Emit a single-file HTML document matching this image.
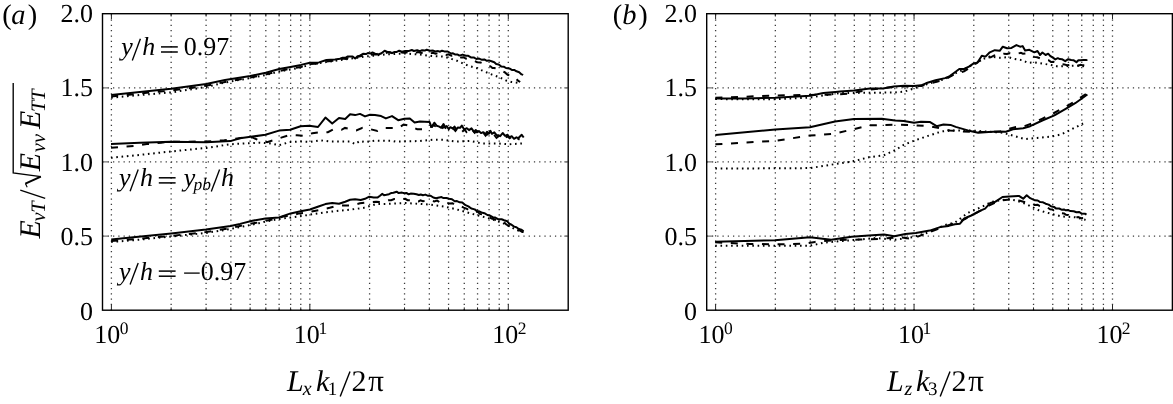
<!DOCTYPE html>
<html><head><meta charset="utf-8"><style>html,body{margin:0;padding:0;background:#fff;}svg{display:block;will-change:transform;}</style></head>
<body><svg width="1173" height="404" viewBox="0 0 1173 404" font-family="Liberation Serif" fill="#000">
<rect width="1173" height="404" fill="#fff"/>
<path d="M111.40 310.20V13.70M171.14 310.20V13.70M206.08 310.20V13.70M230.88 310.20V13.70M250.11 310.20V13.70M265.82 310.20V13.70M279.11 310.20V13.70M290.62 310.20V13.70M300.77 310.20V13.70M309.85 310.20V13.70M369.59 310.20V13.70M404.53 310.20V13.70M429.33 310.20V13.70M448.56 310.20V13.70M464.27 310.20V13.70M477.56 310.20V13.70M489.07 310.20V13.70M499.22 310.20V13.70M508.30 310.20V13.70M102.50 236.07H568.20M102.50 161.95H568.20M102.50 87.82H568.20" stroke="#3a3a3a" stroke-width="1.3" stroke-dasharray="1.25 4.011" fill="none"/>
<path d="M111.40 310.20v-5.5M111.40 13.70v5.5M171.14 310.20v-2.8M171.14 13.70v2.8M206.08 310.20v-2.8M206.08 13.70v2.8M230.88 310.20v-2.8M230.88 13.70v2.8M250.11 310.20v-2.8M250.11 13.70v2.8M265.82 310.20v-2.8M265.82 13.70v2.8M279.11 310.20v-2.8M279.11 13.70v2.8M290.62 310.20v-2.8M290.62 13.70v2.8M300.77 310.20v-2.8M300.77 13.70v2.8M309.85 310.20v-5.5M309.85 13.70v5.5M369.59 310.20v-2.8M369.59 13.70v2.8M404.53 310.20v-2.8M404.53 13.70v2.8M429.33 310.20v-2.8M429.33 13.70v2.8M448.56 310.20v-2.8M448.56 13.70v2.8M464.27 310.20v-2.8M464.27 13.70v2.8M477.56 310.20v-2.8M477.56 13.70v2.8M489.07 310.20v-2.8M489.07 13.70v2.8M499.22 310.20v-2.8M499.22 13.70v2.8M508.30 310.20v-5.5M508.30 13.70v5.5" stroke="#222" stroke-width="1" fill="none"/>
<path d="M102.50 236.07h6M568.20 236.07h-4M102.50 161.95h6M568.20 161.95h-4M102.50 87.82h6M568.20 87.82h-4" stroke="#777" stroke-width="1.2" fill="none"/>
<rect x="102.50" y="13.70" width="465.70" height="296.50" fill="none" stroke="#000" stroke-width="1.4"/>
<text transform="translate(79.89 319.60) skewX(0.1)" font-size="26">0</text>
<text transform="translate(60.42 245.00) skewX(0.1)" font-size="26">0.5</text>
<text transform="translate(60.39 170.50) skewX(0.1)" font-size="26">1.0</text>
<text transform="translate(60.42 95.80) skewX(0.1)" font-size="26">1.5</text>
<text transform="translate(60.39 21.50) skewX(0.1)" font-size="26">2.0</text>
<text transform="translate(94.31 342.80) skewX(0.1)" font-size="26">10</text>
<text transform="translate(119.83 333.60) skewX(0.1)" font-size="17.5">0</text>
<text transform="translate(293.76 342.80) skewX(0.1)" font-size="26">10</text>
<text transform="translate(318.41 333.60) skewX(0.1)" font-size="17.5">1</text>
<text transform="translate(492.21 342.80) skewX(0.1)" font-size="26">10</text>
<text transform="translate(517.63 333.60) skewX(0.1)" font-size="17.5">2</text>
<path d="M715.60 310.20V13.70M775.34 310.20V13.70M810.28 310.20V13.70M835.08 310.20V13.70M854.31 310.20V13.70M870.02 310.20V13.70M883.31 310.20V13.70M894.82 310.20V13.70M904.97 310.20V13.70M914.05 310.20V13.70M973.79 310.20V13.70M1008.73 310.20V13.70M1033.53 310.20V13.70M1052.76 310.20V13.70M1068.47 310.20V13.70M1081.76 310.20V13.70M1093.27 310.20V13.70M1103.42 310.20V13.70M1112.50 310.20V13.70M706.70 236.07H1172.40M706.70 161.95H1172.40M706.70 87.82H1172.40" stroke="#3a3a3a" stroke-width="1.3" stroke-dasharray="1.25 4.011" fill="none"/>
<path d="M715.60 310.20v-5.5M715.60 13.70v5.5M775.34 310.20v-2.8M775.34 13.70v2.8M810.28 310.20v-2.8M810.28 13.70v2.8M835.08 310.20v-2.8M835.08 13.70v2.8M854.31 310.20v-2.8M854.31 13.70v2.8M870.02 310.20v-2.8M870.02 13.70v2.8M883.31 310.20v-2.8M883.31 13.70v2.8M894.82 310.20v-2.8M894.82 13.70v2.8M904.97 310.20v-2.8M904.97 13.70v2.8M914.05 310.20v-5.5M914.05 13.70v5.5M973.79 310.20v-2.8M973.79 13.70v2.8M1008.73 310.20v-2.8M1008.73 13.70v2.8M1033.53 310.20v-2.8M1033.53 13.70v2.8M1052.76 310.20v-2.8M1052.76 13.70v2.8M1068.47 310.20v-2.8M1068.47 13.70v2.8M1081.76 310.20v-2.8M1081.76 13.70v2.8M1093.27 310.20v-2.8M1093.27 13.70v2.8M1103.42 310.20v-2.8M1103.42 13.70v2.8M1112.50 310.20v-5.5M1112.50 13.70v5.5" stroke="#222" stroke-width="1" fill="none"/>
<path d="M706.70 236.07h6M1172.40 236.07h-4M706.70 161.95h6M1172.40 161.95h-4M706.70 87.82h6M1172.40 87.82h-4" stroke="#777" stroke-width="1.2" fill="none"/>
<rect x="706.70" y="13.70" width="465.70" height="296.50" fill="none" stroke="#000" stroke-width="1.4"/>
<text transform="translate(684.09 319.60) skewX(0.1)" font-size="26">0</text>
<text transform="translate(664.62 245.00) skewX(0.1)" font-size="26">0.5</text>
<text transform="translate(664.59 170.50) skewX(0.1)" font-size="26">1.0</text>
<text transform="translate(664.62 95.80) skewX(0.1)" font-size="26">1.5</text>
<text transform="translate(664.59 21.50) skewX(0.1)" font-size="26">2.0</text>
<text transform="translate(698.51 342.80) skewX(0.1)" font-size="26">10</text>
<text transform="translate(724.03 333.60) skewX(0.1)" font-size="17.5">0</text>
<text transform="translate(897.96 342.80) skewX(0.1)" font-size="26">10</text>
<text transform="translate(922.61 333.60) skewX(0.1)" font-size="17.5">1</text>
<text transform="translate(1096.41 342.80) skewX(0.1)" font-size="26">10</text>
<text transform="translate(1121.83 333.60) skewX(0.1)" font-size="17.5">2</text>
<text transform="translate(2.25 24.30) skewX(0.1)" font-size="28.5">(</text>
<text transform="translate(11.25 24.30) skewX(0.1)" font-size="28.5" font-style="italic">a</text>
<text transform="translate(27.76 24.30) skewX(0.1)" font-size="28.5">)</text>
<text transform="translate(612.85 24.30) skewX(0.1)" font-size="28.5">(</text>
<text transform="translate(622.14 24.30) skewX(0.1)" font-size="28.5" font-style="italic">b</text>
<text transform="translate(638.36 24.30) skewX(0.1)" font-size="28.5">)</text>
<text transform="translate(286.95 391.30) skewX(0.1)" font-size="30" font-style="italic">L</text>
<text transform="translate(302.84 395.40) skewX(0.1)" font-size="20" font-style="italic">x</text>
<text transform="translate(315.94 391.30) skewX(0.1)" font-size="30" font-style="italic">k</text>
<text transform="translate(327.63 395.30) skewX(0.1)" font-size="19">1</text>
<path d="M340.20 396.60L350.00 371.60" stroke="#000" stroke-width="1.4"/>
<text transform="translate(351.48 391.30) skewX(0.1)" font-size="30">2</text>
<text transform="translate(368.18 391.30) skewX(0.1)" font-size="31">π</text>
<text transform="translate(886.95 391.30) skewX(0.1)" font-size="30" font-style="italic">L</text>
<text transform="translate(904.52 395.40) skewX(0.1)" font-size="20" font-style="italic">z</text>
<text transform="translate(915.94 391.30) skewX(0.1)" font-size="30" font-style="italic">k</text>
<text transform="translate(928.09 395.30) skewX(0.1)" font-size="19">3</text>
<path d="M940.20 396.60L950.00 371.60" stroke="#000" stroke-width="1.4"/>
<text transform="translate(951.48 391.30) skewX(0.1)" font-size="30">2</text>
<text transform="translate(968.18 391.30) skewX(0.1)" font-size="31">π</text>
<text transform="translate(121.27 55.40) skewX(0.1)" font-size="26" font-style="italic">y</text>
<path d="M132.30 60.40L140.40 38.70" stroke="#000" stroke-width="1.35"/>
<text transform="translate(142.26 55.40) skewX(0.1)" font-size="26" font-style="italic">h</text>
<path d="M161.00 46.90L177.80 46.90" stroke="#000" stroke-width="1.5"/>
<path d="M161.00 52.00L177.80 52.00" stroke="#000" stroke-width="1.5"/>
<text transform="translate(183.81 55.40) skewX(0.1)" font-size="26">0.97</text>
<text transform="translate(119.07 186.30) skewX(0.1)" font-size="26" font-style="italic">y</text>
<path d="M130.10 191.30L138.20 169.60" stroke="#000" stroke-width="1.35"/>
<text transform="translate(140.06 186.30) skewX(0.1)" font-size="26" font-style="italic">h</text>
<path d="M158.80 177.80L175.60 177.80" stroke="#000" stroke-width="1.5"/>
<path d="M158.80 182.90L175.60 182.90" stroke="#000" stroke-width="1.5"/>
<text transform="translate(183.87 186.30) skewX(0.1)" font-size="26" font-style="italic">y</text>
<text transform="translate(193.53 190.10) skewX(0.1)" font-size="17.5" font-style="italic">pb</text>
<path d="M211.30 191.60L219.60 169.60" stroke="#000" stroke-width="1.35"/>
<text transform="translate(221.06 186.30) skewX(0.1)" font-size="26" font-style="italic">h</text>
<text transform="translate(119.07 279.60) skewX(0.1)" font-size="26" font-style="italic">y</text>
<path d="M130.10 284.60L138.20 262.90" stroke="#000" stroke-width="1.35"/>
<text transform="translate(140.06 279.60) skewX(0.1)" font-size="26" font-style="italic">h</text>
<path d="M158.80 271.10L175.60 271.10" stroke="#000" stroke-width="1.5"/>
<path d="M158.80 276.20L175.60 276.20" stroke="#000" stroke-width="1.5"/>
<path d="M184.10 273.10L199.70 273.10" stroke="#000" stroke-width="1.3"/>
<text transform="translate(200.81 279.60) skewX(0.1)" font-size="26">0.97</text>
<g transform="rotate(-90)"><text transform="translate(-238.55 39.60) skewX(0.1)" font-size="30" font-style="italic">E</text><text transform="translate(-221.58 45.00) skewX(0.1)" font-size="20.5" font-style="italic">v</text><text transform="translate(-212.74 45.00) skewX(0.1)" font-size="20.5" font-style="italic">T</text><path d="M-198.3 45.2L-190.2 20.3" stroke="#000" stroke-width="1.35"/><path d="M-187.3 27.2L-183.6 25.4" stroke="#000" stroke-width="1.1" fill="none"/><path d="M-183.6 25.4L-176.6 40.8" stroke="#000" stroke-width="2.1" fill="none"/><path d="M-176.6 40.8L-172.9 13.2L-83 13.2" stroke="#000" stroke-width="1.35" fill="none" stroke-linejoin="miter"/><text transform="translate(-171.35 39.60) skewX(0.1)" font-size="30" font-style="italic">E</text><text transform="translate(-152.18 45.00) skewX(0.1)" font-size="20.5" font-style="italic">vv</text><text transform="translate(-128.95 39.60) skewX(0.1)" font-size="30" font-style="italic">E</text><text transform="translate(-112.04 45.00) skewX(0.1)" font-size="20.5" font-style="italic">TT</text></g>
<path d="M111.2 97.7 L140.0 95.0 L171.2 92.4 L206.2 87.0 L225.0 82.5 L250.3 78.0 L265.8 75.0 L279.2 71.5 L301.0 67.5 L310.0 64.5 L326.4 62.0 L344.3 59.5 L361.0 57.0 L385.1 54.5 L404.0 53.5 L420.0 54.5 L430.3 55.9 L444.5 56.7 L456.3 60.5 L468.2 65.7 L477.1 68.3 L484.6 71.6 L492.0 74.6 L499.4 77.2 L506.1 80.5 L511.3 82.0 L520.2 83.2" stroke="#000" stroke-width="2" fill="none" stroke-dasharray="1.6 3.7"/>
<path d="M111.2 96.5 L140.0 93.5 L171.2 90.5 L206.2 85.8 L225.0 82.0 L250.3 77.5 L265.8 74.5 L279.2 71.0 L290.5 68.5 L301.0 67.0 L310.0 64.0 L319.0 63.5 L326.4 61.5 L335.0 60.5 L340.0 59.9 L343.3 58.5 L345.3 59.0 L348.2 58.1 L350.5 58.9 L353.3 58.1 L355.4 58.8 L357.8 56.8 L361.2 56.0 L363.8 54.9 L366.1 55.3 L367.9 54.6 L370.2 55.1 L373.5 54.2 L376.2 54.4 L378.0 53.5 L380.0 53.8 L383.4 52.4 L385.5 53.0 L388.6 52.1 L391.8 52.9 L394.9 52.2 L398.2 53.0 L400.3 52.1 L403.2 52.8 L405.9 52.2 L409.1 52.9 L412.3 52.2 L415.5 53.0 L418.0 52.1 L421.3 52.9 L423.8 52.4 L426.2 53.2 L428.2 52.4 L430.5 53.5 L432.8 52.7 L435.7 53.7 L438.3 53.2 L441.1 54.2 L443.2 53.8 L446.5 54.9 L448.4 54.3 L451.4 55.7 L453.5 55.2 L455.4 56.4 L457.7 56.2 L460.8 57.4 L463.5 57.2 L465.7 58.5 L468.9 59.0 L471.8 60.5 L474.2 60.8 L477.1 62.2 L480.4 62.5 L483.3 63.5 L485.5 63.7 L487.6 65.5 L490.5 66.3 L492.4 68.0 L494.5 68.0 L496.8 69.3 L499.8 69.9 L502.1 71.3 L504.7 72.2 L507.6 74.8 L510.6 75.5 L513.5 77.9 L515.7 78.4 L518.0 80.7 L520.2 82.0" stroke="#000" stroke-width="2" fill="none" stroke-dasharray="7 8.6"/>
<path d="M111.2 94.9 L135.0 92.5 L171.2 88.7 L206.2 84.1 L225.0 80.0 L250.3 76.0 L265.8 72.7 L279.2 69.0 L290.5 66.9 L301.0 64.9 L310.0 62.8 L319.0 62.4 L326.4 60.0 L335.0 59.6 L340.0 58.8 L342.7 57.7 L345.4 57.8 L347.4 56.6 L350.5 56.6 L352.7 56.6 L355.2 58.5 L357.8 56.1 L359.8 55.6 L363.0 53.8 L366.0 54.1 L367.9 53.0 L370.6 53.4 L372.5 52.5 L375.1 53.7 L378.3 54.5 L381.5 53.2 L384.6 50.7 L387.9 52.2 L389.8 52.2 L392.0 53.2 L394.5 52.0 L396.8 51.9 L399.2 50.7 L401.9 51.7 L405.2 51.0 L408.4 51.1 L411.8 50.0 L413.9 51.0 L417.2 50.2 L419.9 51.1 L422.1 50.2 L424.8 50.6 L426.7 49.7 L430.1 50.8 L433.1 50.6 L435.2 51.5 L438.2 51.1 L440.1 51.7 L442.0 50.7 L444.3 51.4 L447.7 51.5 L451.1 53.5 L453.0 53.3 L454.9 54.4 L457.3 54.4 L459.4 55.6 L462.6 54.6 L465.9 55.7 L468.3 55.8 L470.9 57.4 L473.7 57.4 L476.4 59.0 L479.1 58.6 L482.0 59.8 L484.3 59.4 L486.9 60.8 L488.8 60.4 L491.5 61.3 L494.3 62.2 L496.2 64.0 L498.7 64.5 L501.1 66.4 L504.1 66.8 L506.0 68.0 L509.3 68.4 L511.8 69.9 L514.2 69.9 L516.5 71.3 L519.2 72.2 L521.6 74.4 L523.2 74.9" stroke="#000" stroke-width="2" fill="none" stroke-linejoin="round"/>
<path d="M111.0 157.8 L140.8 154.8 L170.6 151.5 L206.4 147.9 L230.3 144.3 L243.4 143.5 L260.0 142.7 L270.0 143.4 L279.0 145.2 L289.5 142.1 L300.6 141.5 L310.5 141.9 L320.4 140.3 L330.0 141.5 L350.0 141.5 L355.1 144.0 L360.0 140.9 L365.0 142.1 L375.0 140.6 L392.7 140.9 L395.5 141.6 L420.0 141.0 L433.7 139.6 L443.2 139.8 L456.9 141.6 L470.5 140.9 L481.4 143.4 L497.8 143.4 L508.7 144.3 L522.3 143.4" stroke="#000" stroke-width="2" fill="none" stroke-dasharray="1.6 3.7"/>
<path d="M111.0 147.7 L134.8 145.9 L146.8 144.1 L161.0 142.7 L167.0 141.8 L206.0 141.5 L224.3 140.3 L241.0 137.9 L252.4 137.4 L258.6 140.3 L267.0 142.1 L273.4 140.3 L282.0 137.4 L289.5 135.0 L297.0 135.3 L303.0 135.9 L312.4 133.2 L319.2 132.2 L327.9 132.2 L334.0 129.1 L341.5 129.8 L345.0 127.9 L347.7 128.5 L356.3 130.4 L362.5 127.9 L370.0 129.1 L377.4 131.0 L383.2 128.0 L391.4 128.0 L398.2 128.0 L403.6 124.6 L410.5 125.9 L417.3 129.3 L424.1 129.3 L429.6 126.6 L432.0 126.9 L433.5 124.9 L435.1 126.1 L437.0 124.6 L439.4 127.7 L441.0 125.8 L442.8 127.9 L444.3 126.8 L446.8 129.3 L449.2 127.3 L450.8 129.6 L452.9 128.1 L455.4 131.0 L456.9 128.9 L459.1 131.1 L460.7 129.3 L462.2 131.7 L464.6 129.5 L466.4 132.0 L468.5 129.6 L470.9 132.1 L472.8 130.5 L474.7 132.8 L476.5 131.3 L477.9 133.5 L480.1 132.7 L482.1 134.9 L483.9 133.1 L485.6 135.7 L487.2 133.9 L488.9 136.2 L491.2 134.9 L493.3 137.4 L494.8 135.7 L496.5 137.8 L498.6 136.2 L500.4 137.8 L502.4 136.6 L504.6 138.6 L507.2 136.2 L509.7 138.3 L511.5 136.7 L513.8 139.4 L516.3 137.9 L519.6 139.6" stroke="#000" stroke-width="2" fill="none" stroke-dasharray="7 8.6"/>
<path d="M111.0 143.9 L140.0 142.8 L170.6 141.7 L206.4 142.3 L230.3 141.1 L240.0 138.2 L252.4 136.6 L265.4 134.7 L279.0 130.6 L290.1 129.8 L300.6 126.3 L309.3 125.8 L318.0 127.0 L325.4 117.6 L332.2 123.6 L339.0 118.0 L345.2 118.9 L350.1 114.3 L355.1 115.1 L360.0 113.9 L365.0 116.4 L370.0 114.7 L375.0 115.0 L381.1 116.1 L385.9 118.4 L392.0 116.1 L398.2 120.2 L404.3 118.8 L409.8 118.4 L414.6 122.5 L420.0 121.6 L429.6 122.1 L431.0 125.9 L432.0 126.5 L434.3 122.7 L436.8 125.8 L439.3 126.6 L441.3 127.8 L443.5 124.0 L445.0 127.0 L446.7 126.1 L448.8 129.2 L450.4 127.2 L452.9 128.6 L454.5 126.5 L456.1 129.5 L457.7 127.6 L460.1 127.8 L461.8 125.6 L464.2 129.6 L466.8 128.2 L469.0 130.1 L471.5 128.4 L474.1 131.8 L475.8 130.0 L477.4 132.2 L478.9 131.0 L481.0 133.1 L483.2 132.2 L485.0 134.5 L487.0 131.8 L489.0 133.5 L490.4 130.8 L491.9 133.8 L494.3 132.3 L496.6 135.2 L498.7 135.3 L500.2 136.2 L502.7 133.0 L505.0 135.8 L507.6 134.7 L509.4 137.4 L511.7 136.2 L514.0 138.8 L516.4 137.3 L518.2 138.2 L521.7 134.8 L523.7 137.5" stroke="#000" stroke-width="2" fill="none" stroke-linejoin="round"/>
<path d="M111.2 242.0 L135.9 240.0 L171.2 236.5 L205.9 233.0 L230.6 229.0 L245.0 226.0 L258.6 223.3 L263.5 222.1 L278.4 219.0 L289.5 217.7 L301.9 215.9 L314.3 214.0 L326.6 212.2 L339.0 210.7 L351.4 209.5 L363.8 207.8 L370.0 206.0 L376.1 204.1 L390.0 203.8 L405.0 203.0 L413.6 203.5 L428.5 204.5 L443.4 206.4 L455.2 209.0 L467.1 212.4 L479.0 215.7 L490.9 218.9 L502.8 223.1 L514.7 229.0 L522.1 232.0" stroke="#000" stroke-width="2" fill="none" stroke-dasharray="1.6 3.7"/>
<path d="M111.2 241.1 L135.9 239.0 L171.2 235.9 L205.9 232.0 L230.6 228.2 L245.0 224.8 L258.0 222.5 L268.5 220.2 L274.7 219.0 L283.3 216.5 L289.5 215.9 L299.4 213.4 L305.6 212.8 L314.3 210.9 L321.1 209.7 L329.7 207.8 L335.9 206.0 L344.6 205.4 L351.4 205.4 L360.0 203.3 L366.9 202.3 L376.1 201.7 L380.0 202.0 L383.1 201.1 L385.3 201.2 L388.2 200.2 L391.2 200.3 L394.2 199.1 L397.3 199.1 L399.7 198.4 L402.6 199.2 L405.3 198.8 L407.5 200.2 L410.4 200.3 L412.8 201.7 L415.9 201.7 L418.4 201.5 L420.5 200.3 L422.8 201.2 L425.5 200.9 L428.3 201.8 L431.6 200.8 L434.2 201.4 L437.2 200.6 L440.5 202.9 L442.9 203.4 L445.2 203.9 L447.1 203.0 L449.8 203.4 L452.6 203.3 L454.8 204.9 L456.8 205.4 L460.0 206.9 L461.8 206.6 L463.6 207.6 L466.9 208.8 L469.2 210.8 L471.6 211.8 L475.0 212.2 L477.5 211.6 L479.9 213.9 L482.1 214.4 L485.3 216.5 L488.5 216.6 L491.6 218.6 L494.3 219.2 L497.2 220.8 L499.1 220.5 L501.4 221.6 L504.4 222.6 L506.3 224.5 L509.0 226.0 L511.2 227.6 L514.5 228.7 L517.0 230.2 L519.7 230.4 L522.3 231.9 L523.6 232.0" stroke="#000" stroke-width="2" fill="none" stroke-dasharray="7 8.6"/>
<path d="M111.2 239.4 L135.9 237.1 L171.2 233.4 L205.9 229.5 L230.6 226.0 L240.0 223.9 L252.4 220.8 L265.4 218.4 L279.0 217.4 L290.7 213.4 L300.6 211.2 L309.9 209.5 L319.2 206.2 L325.4 204.1 L332.2 202.9 L339.0 203.8 L345.2 201.7 L350.1 199.8 L355.1 199.2 L360.7 200.0 L365.0 198.8 L369.3 196.7 L373.7 197.6 L377.4 197.6 L380.0 195.8 L382.1 193.9 L384.0 195.2 L386.4 194.8 L389.0 194.2 L391.5 192.9 L393.4 192.7 L396.6 191.7 L398.7 193.1 L402.0 192.6 L404.5 193.3 L406.4 192.9 L408.6 194.3 L410.6 193.6 L413.7 193.7 L416.5 194.2 L418.9 195.0 L420.8 194.5 L422.9 195.2 L425.4 194.6 L428.1 195.8 L430.4 195.7 L433.3 197.5 L436.0 198.2 L439.2 197.5 L441.5 197.1 L443.5 198.1 L446.5 198.0 L449.1 198.8 L452.0 199.3 L454.7 201.3 L457.0 201.1 L459.7 202.3 L462.3 202.5 L465.5 205.2 L468.4 206.4 L471.3 208.5 L474.7 209.4 L477.0 211.1 L479.8 211.6 L482.4 212.8 L484.4 213.2 L487.4 215.0 L489.6 215.5 L492.8 217.2 L495.3 217.6 L498.5 219.3 L501.6 219.3 L504.1 220.3 L507.3 221.3 L509.4 223.8 L511.6 224.7 L514.1 226.6 L516.4 227.2 L518.8 229.0 L521.5 229.7 L523.6 231.3" stroke="#000" stroke-width="2" fill="none" stroke-linejoin="round"/>
<path d="M715.4 99.1 L745.0 99.2 L775.0 99.3 L810.0 97.5 L840.0 93.0 L869.8 92.8 L893.7 92.5 L904.4 91.6 L914.0 88.4 L925.9 84.5 L945.0 79.0 L955.0 73.5 L965.0 69.0 L975.0 63.5 L981.1 59.7 L989.8 56.6 L999.7 57.8 L1008.4 57.2 L1013.3 58.7 L1022.6 60.3 L1027.5 62.8 L1035.0 62.4 L1039.9 63.2 L1044.9 64.0 L1052.9 65.3 L1057.9 66.5 L1069.0 65.9 L1078.9 65.6 L1085.1 66.5" stroke="#000" stroke-width="2" fill="none" stroke-dasharray="1.6 3.7"/>
<path d="M715.4 97.7 L745.0 96.7 L775.0 95.5 L810.0 94.9 L835.0 94.5 L850.0 93.5 L870.0 89.5 L893.7 87.0 L904.4 86.5 L921.1 86.0 L935.5 82.0 L945.0 79.5 L954.6 74.0 L964.1 71.3 L973.7 65.0 L975.0 64.4 L978.3 61.6 L981.2 60.2 L983.4 58.8 L985.6 59.1 L988.1 57.6 L990.7 57.3 L993.8 55.6 L996.0 55.2 L998.3 54.3 L1001.5 54.6 L1003.5 53.8 L1006.9 54.0 L1009.6 53.2 L1012.5 53.6 L1015.4 52.8 L1018.2 53.5 L1020.9 52.8 L1022.9 53.7 L1025.5 53.4 L1028.7 55.2 L1031.7 55.4 L1034.0 56.9 L1037.2 57.2 L1040.2 58.4 L1043.1 58.4 L1046.4 60.1 L1049.0 60.4 L1051.0 62.0 L1053.6 61.8 L1056.9 62.5 L1059.8 62.7 L1062.0 64.1 L1064.3 64.4 L1066.8 65.3 L1069.9 64.8 L1072.0 65.8 L1074.1 65.3 L1077.5 66.0 L1080.5 64.8 L1082.3 65.2 L1084.7 65.3 L1087.0 66.5" stroke="#000" stroke-width="2" fill="none" stroke-dasharray="7 8.6"/>
<path d="M715.4 98.5 L745.8 98.5 L775.0 97.7 L810.2 95.8 L823.4 93.1 L835.3 91.9 L840.0 91.6 L854.3 90.4 L869.8 88.6 L883.0 88.4 L893.7 86.5 L904.4 85.7 L914.0 86.0 L921.1 85.3 L925.9 83.3 L935.5 80.3 L945.0 78.1 L949.8 76.1 L954.6 72.5 L959.3 69.0 L964.1 69.0 L968.9 66.6 L973.7 63.4 L977.4 62.8 L981.8 55.7 L985.5 56.6 L989.8 52.3 L994.8 50.2 L999.7 50.8 L1002.8 46.7 L1007.1 48.3 L1011.5 47.9 L1016.4 45.1 L1020.1 46.7 L1022.6 46.1 L1025.1 50.4 L1029.4 49.8 L1034.4 52.3 L1037.5 51.0 L1039.9 54.8 L1040.0 55.0 L1042.4 52.5 L1045.6 55.0 L1048.2 53.7 L1050.1 55.8 L1052.9 57.7 L1055.3 59.4 L1057.8 58.2 L1059.9 59.1 L1061.9 59.2 L1065.2 61.2 L1068.2 59.2 L1071.2 60.0 L1073.4 60.2 L1076.4 62.2 L1078.4 60.2 L1080.5 60.2 L1083.6 59.9 L1086.8 60.0 L1087.0 59.5" stroke="#000" stroke-width="2" fill="none" stroke-linejoin="round"/>
<path d="M715.4 168.6 L809.9 168.1 L835.0 164.1 L854.0 161.1 L869.6 157.1 L883.5 155.4 L895.6 149.9 L903.7 144.8 L915.8 140.1 L929.7 135.3 L941.8 131.4 L953.9 130.4 L969.5 130.4 L985.1 131.4 L1002.5 132.7 L1012.9 135.6 L1025.0 139.1 L1037.1 137.9 L1051.0 136.6 L1061.4 134.4 L1071.8 129.2 L1083.1 123.5" stroke="#000" stroke-width="2" fill="none" stroke-dasharray="1.6 3.7"/>
<path d="M715.4 144.3 L775.2 140.8 L809.9 135.6 L833.2 133.9 L854.0 129.1 L869.6 125.3 L895.6 124.7 L912.3 125.2 L930.0 126.2 L940.0 128.3 L950.0 130.4 L960.0 131.4 L975.0 132.1 L990.0 132.1 L1000.0 131.5 L1008.0 129.0 L1016.0 127.0 L1024.0 126.4 L1032.0 123.5 L1042.0 118.8 L1054.0 113.0 L1065.0 107.2 L1075.0 101.3 L1087.0 93.3" stroke="#000" stroke-width="2" fill="none" stroke-dasharray="7 8.6"/>
<path d="M715.4 135.1 L775.2 129.4 L809.9 127.3 L835.0 121.6 L854.0 119.0 L881.8 118.7 L895.0 120.5 L903.7 121.0 L914.1 122.8 L921.0 121.7 L929.7 121.9 L936.6 126.2 L943.5 124.5 L950.5 124.9 L955.7 126.9 L967.8 130.4 L978.2 132.7 L988.6 132.1 L999.0 131.4 L1005.9 131.8 L1012.9 129.2 L1023.2 128.3 L1030.2 126.2 L1042.3 120.5 L1054.4 115.3 L1064.8 109.3 L1075.2 103.2 L1087.4 94.5" stroke="#000" stroke-width="2" fill="none" stroke-linejoin="round"/>
<path d="M715.2 245.7 L810.0 245.7 L824.3 242.6 L851.6 240.2 L875.5 238.0 L895.0 239.8 L912.3 237.2 L929.7 232.0 L945.0 225.0 L955.0 222.5 L967.8 212.9 L981.7 206.9 L992.0 201.7 L1007.7 199.1 L1016.3 200.5 L1026.7 204.3 L1038.8 210.3 L1051.0 213.8 L1061.4 216.4 L1075.2 217.3 L1085.6 219.9" stroke="#000" stroke-width="2" fill="none" stroke-dasharray="1.6 3.7"/>
<path d="M715.2 242.3 L750.0 244.0 L780.0 244.3 L805.0 243.6 L815.0 241.9 L835.0 240.2 L860.0 239.5 L880.0 238.9 L900.0 237.2 L912.0 238.9 L929.7 232.0 L945.0 226.5 L955.0 223.0 L965.0 219.0 L980.0 211.0 L990.0 205.0 L1000.0 200.5 L1010.0 199.5 L1020.0 200.8 L1030.0 203.6 L1032.5 203.5 L1034.6 204.9 L1037.7 204.8 L1039.8 206.0 L1042.1 205.9 L1045.4 207.6 L1047.3 207.4 L1050.1 209.3 L1052.4 209.5 L1054.9 211.4 L1057.7 211.5 L1060.8 213.1 L1064.1 213.4 L1066.0 214.8 L1068.0 215.0 L1070.3 216.7 L1073.5 216.5 L1076.2 217.4 L1078.1 217.0 L1081.3 218.2 L1083.4 218.1 L1085.3 219.2 L1086.0 219.0" stroke="#000" stroke-width="2" fill="none" stroke-dasharray="7 8.6"/>
<path d="M715.2 241.8 L774.9 240.2 L809.9 237.2 L831.2 239.7 L851.6 236.8 L868.7 235.5 L884.0 234.6 L894.3 236.3 L905.4 234.1 L915.8 232.9 L929.7 230.6 L940.1 227.1 L948.7 225.9 L954.8 224.2 L960.0 223.7 L964.3 218.5 L971.3 215.5 L979.9 210.8 L985.1 208.6 L990.3 202.9 L995.5 201.7 L1002.5 197.0 L1009.4 196.5 L1018.9 195.9 L1023.2 198.7 L1026.7 195.3 L1030.2 198.2 L1035.0 200.3 L1037.7 200.5 L1040.2 202.1 L1043.0 202.3 L1045.6 203.7 L1048.7 204.6 L1050.9 206.2 L1054.0 206.9 L1055.9 208.4 L1059.2 208.5 L1062.0 209.8 L1063.9 209.4 L1065.8 210.3 L1068.0 210.1 L1070.5 211.1 L1073.7 211.2 L1076.5 212.2 L1079.3 212.0 L1081.6 213.6 L1084.9 213.7 L1086.5 214.7" stroke="#000" stroke-width="2" fill="none" stroke-linejoin="round"/>
</svg></body></html>
